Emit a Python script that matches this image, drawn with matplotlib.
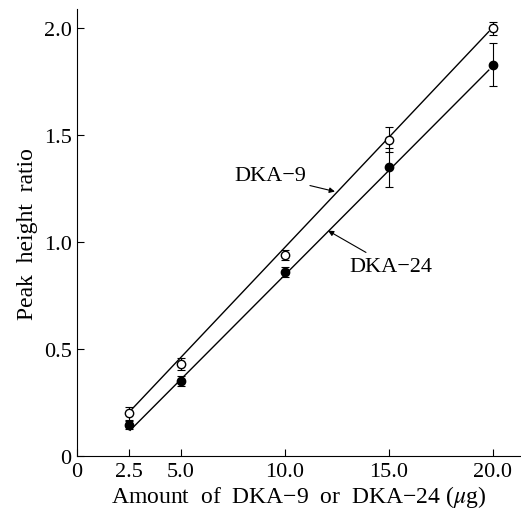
import matplotlib
matplotlib.use("Agg")
import matplotlib.pyplot as plt

plt.rcParams["font.family"] = ["Liberation Serif", "DejaVu Serif"]
plt.rcParams["mathtext.fontset"] = "stix"

# 데이터
amount = [2.5, 5.0, 10.0, 15.0, 20.0]
dka9 = [0.20, 0.43, 0.94, 1.48, 2.00]
dka9_err = [0.03, 0.03, 0.025, 0.06, 0.03]
dka24 = [0.145, 0.35, 0.86, 1.35, 1.83]
dka24_err = [0.02, 0.025, 0.025, 0.09, 0.10]

# 회귀선 끝점
fit_x = [2.55, 19.8]
fit9 = [0.21, 1.985]
fit24 = [0.12, 1.805]

xticks = [0, 2.5, 5.0, 10.0, 15.0, 20.0]
xticklabels = ["0", "2.5", "5.0", "10.0", "15.0", "20.0"]
yticks = [0, 0.5, 1.0, 1.5, 2.0]
yticklabels = ["0", "0.5", "1.0", "1.5", "2.0"]

fig = plt.figure(figsize=(5.21, 5.10), dpi=100)
ax = fig.add_axes([0.148, 0.104, 0.852, 0.876])

ax.plot(fit_x, fit9, color="black", linewidth=1.0)
ax.plot(fit_x, fit24, color="black", linewidth=1.0)

ax.errorbar(amount, dka9, yerr=dka9_err, fmt="o", mfc="white", mec="black",
            ecolor="black", markersize=6, capsize=3, elinewidth=0.8, capthick=0.8)
ax.errorbar(amount, dka24, yerr=dka24_err, fmt="o", mfc="black", mec="black",
            ecolor="black", markersize=6, capsize=3, elinewidth=0.8, capthick=0.8)

# 라벨 화살표
ax.annotate("DKA\u22129", xy=(12.4, 1.237), xytext=(11.0, 1.31),
            ha="right", va="center", fontsize=16,
            arrowprops=dict(arrowstyle="-|>", color="black", lw=0.8,
                            shrinkA=1, shrinkB=0, mutation_scale=8))
ax.annotate("DKA\u221224", xy=(12.07, 1.054), xytext=(13.1, 0.885),
            ha="left", va="center", fontsize=16,
            arrowprops=dict(arrowstyle="-|>", color="black", lw=0.8,
                            shrinkA=3, shrinkB=0, mutation_scale=8))

ax.set_xlim(0, 21.35)
ax.set_ylim(0, 2.09)
ax.set_xticks(xticks)
ax.set_xticklabels(xticklabels)
ax.set_yticks(yticks)
ax.set_yticklabels(yticklabels)
ax.tick_params(direction="in", length=5, width=0.8, labelsize=16, pad=4)
ax.spines["top"].set_visible(False)
ax.spines["right"].set_visible(False)

ax.set_xlabel("Amount  of  DKA\u22129  or  DKA\u221224 ($\\mu$g)", fontsize=17, labelpad=2)
ax.set_ylabel("Peak  height  ratio", fontsize=17, labelpad=4)

plt.savefig("out.png", dpi=100)
plt.close()
